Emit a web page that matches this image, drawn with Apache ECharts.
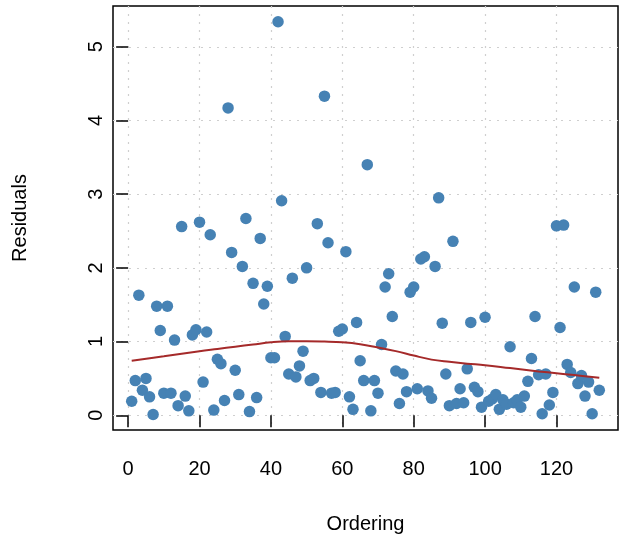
<!DOCTYPE html>
<html><head><meta charset="utf-8">
<script src="https://cdn.jsdelivr.net/npm/echarts@6/dist/echarts.min.js"></script>
<style>html,body{margin:0;padding:0;background:#fff}#c{width:626px;height:541px}</style>
</head><body><div id="c"></div>
<script>
const ordering = [1,2,3,4,5,6,7,8,9,10,11,12,13,14,15,16,17,18,19,20,21,22,23,24,25,26,27,28,29,30,
31,32,33,34,35,36,37,38,39,40,41,42,43,44,45,46,47,48,49,50,51,52,53,54,55,56,57,58,59,60,
61,62,63,64,65,66,67,68,69,70,71,72,73,74,75,76,77,78,79,80,81,82,83,84,85,86,87,88,89,90,
91,92,93,94,95,96,97,98,99,100,101,102,103,104,105,106,107,108,109,110,111,112,113,114,115,116,117,118,119,120,
121,122,123,124,125,126,127,128,129,130,131,132];
const residuals = [0.19,0.47,1.63,0.34,0.50,0.25,0.01,1.48,1.15,0.30,
1.48,0.30,1.02,0.13,2.56,0.26,0.06,1.09,1.16,2.62,
0.45,1.13,2.45,0.07,0.76,0.70,0.20,4.17,2.21,0.61,
0.28,2.02,2.67,0.05,1.79,0.24,2.40,1.51,1.75,0.78,
0.78,5.34,2.91,1.07,0.56,1.86,0.52,0.67,0.87,2.00,
0.47,0.50,2.60,0.31,4.33,2.34,0.30,0.31,1.14,1.17,
2.22,0.25,0.08,1.26,0.74,0.47,3.40,0.06,0.47,0.30,
0.96,1.74,1.92,1.34,0.60,0.16,0.56,0.32,1.67,1.74,
0.36,2.12,2.15,0.33,0.23,2.02,2.95,1.25,0.56,0.13,
2.36,0.16,0.36,0.17,0.63,1.26,0.38,0.32,0.11,1.33,
0.19,0.22,0.28,0.08,0.21,0.15,0.93,0.17,0.21,0.11,
0.26,0.46,0.77,1.34,0.55,0.02,0.56,0.14,0.31,2.57,
1.19,2.58,0.69,0.58,1.74,0.43,0.54,0.26,0.45,0.02,
1.67,0.34];
const smoothX = [1,10,20,25,30,35,40,45,50,55,60,65,70,75,80,85,90,95,100,107,115,120,125,132];
const smoothY = [0.74,0.80,0.87,0.90,0.93,0.96,0.99,1.005,1.005,1.0,0.99,0.965,0.92,0.87,0.81,0.755,0.725,0.70,0.68,0.64,0.595,0.57,0.545,0.51];
const xTicks = [0,20,40,60,80,100,120];
const yTicks = [0,1,2,3,4,5];

const chart = echarts.init(document.getElementById('c'), null, {renderer:'canvas'});
const font = 'Liberation Sans, Arial, Helvetica, sans-serif';
chart.setOption({
  animation:false,
  backgroundColor:'#fff',
  grid: {left:113, right:8, top:6, bottom:111, show:true, borderColor:'#000', borderWidth:1.5, backgroundColor:'transparent'},
  xAxis: {
    type:'value', min:-4.24, max:137.24,
    name:'Ordering', nameLocation:'middle', nameGap:84,
    nameTextStyle:{fontFamily:font, fontSize:20, color:'#000'},
    axisLine:{show:false},
    axisTick:{show:true, inside:false, length:12, lineStyle:{color:'#000', width:1.5}, customValues:xTicks},
    axisLabel:{show:true, fontFamily:font, fontSize:20, color:'#000', margin:29, customValues:xTicks},
    splitLine:{show:true, lineStyle:{color:'#cfcfcf', width:1.2, type:[2,6]}}
  },
  yAxis: {
    type:'value', min:-0.2, max:5.553,
    name:'Residuals', nameLocation:'middle', nameGap:83, nameRotate:90,
    nameTextStyle:{fontFamily:font, fontSize:20, color:'#000'},
    axisLine:{show:false},
    axisTick:{show:true, inside:false, length:12, lineStyle:{color:'#000', width:1.5}, customValues:yTicks},
    axisLabel:{show:true, rotate:90, fontFamily:font, fontSize:20, color:'#000', margin:7, customValues:yTicks},
    splitLine:{show:true, lineStyle:{color:'#cfcfcf', width:1.2, type:[2,6]}}
  },
  series: [
    {type:'scatter', symbol:'circle', symbolSize:11.5, itemStyle:{color:'#4682B4', opacity:1},
     data: ordering.map((x,i)=>[x, residuals[i]]), z:2},
    {type:'line', smooth:0.4, showSymbol:false, symbol:'none', lineStyle:{color:'#A52A2A', width:2},
     data: smoothX.map((x,i)=>[x, smoothY[i]]), z:3}
  ]
});
</script></body></html>
